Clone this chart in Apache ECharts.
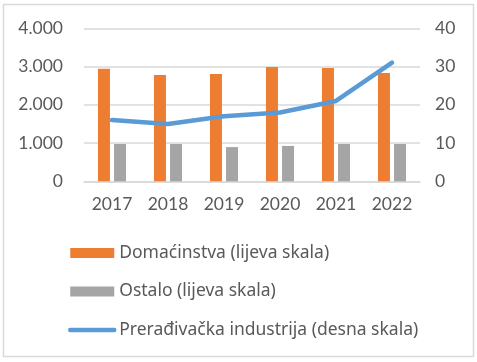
<!DOCTYPE html>
<html><head><meta charset="utf-8">
<script src="https://cdn.jsdelivr.net/npm/echarts@6/dist/echarts.min.js"></script>
<style>html,body{margin:0;padding:0;background:#fff}#c{width:477px;height:362px}</style>
</head><body><div id="c"></div>
<script>
const categories = ['2017','2018','2019','2020','2021','2022'];
const domacinstva = [2940, 2780, 2805, 2990, 2960, 2830];
const ostalo = [975, 975, 895, 925, 975, 975];
const preradjivacka = [16, 15, 17, 18, 21, 31];
const leftTicks = [0, 1000, 2000, 3000, 4000];
const rightTicks = [0, 10, 20, 30, 40];

const FONT = 'Lato';
const LFONT = 'Noto Sans';
const chart = echarts.init(document.getElementById('c'), null, {renderer:'canvas'});
chart.setOption({
  animation: false,
  backgroundColor: '#fff',
  textStyle: {fontFamily: FONT},
  graphic: [{type:'rect', shape:{x:3.5, y:4.5, width:470, height:352}, style:{fill:'none', stroke:'#D9D9D9', lineWidth:1.5}, silent:true, z:-1}],
  grid: {left: 84, right: 57, top: 28.3, height: 153, containLabel: false},
  legend: {
    orient: 'vertical', left: 68, top: 244, padding: 0,
    itemWidth: 44, itemHeight: 10, itemGap: 20.5,
    textStyle: {fontFamily: LFONT, fontSize: 17.5, color: '#595959', lineHeight: 17, padding:[0,0,0,0]},
    data: [
      {name: 'Domaćinstva (lijeva skala)', icon: 'rect'},
      {name: 'Ostalo (lijeva skala)', icon: 'rect'},
      {name: 'Prerađivačka industrija (desna skala)', itemStyle: {opacity: 0},
       lineStyle: {width: 4.5, cap: 'round', color: '#5B9BD5'}}
    ]
  },
  xAxis: {
    type: 'category', data: categories,
    axisLine: {show: true, lineStyle: {color: '#D9D9D9', width: 1.5}},
    axisTick: {show: false},
    axisLabel: {fontFamily: FONT, fontSize: 17.5, color: '#595959', margin: 14}
  },
  yAxis: [
    {type: 'value', min: leftTicks[0], max: leftTicks[leftTicks.length-1], interval: 1000,
     axisLine: {show:false}, axisTick:{show:false},
     splitLine: {lineStyle: {color: '#D9D9D9', width: 1.5}},
     axisLabel: {fontFamily: FONT, fontSize: 17.5, color: '#595959', margin: 21,
       formatter: v => v === 0 ? '0' : (v/1000).toFixed(0) + '.000'}},
    {type: 'value', min: rightTicks[0], max: rightTicks[rightTicks.length-1], interval: 10,
     axisLine: {show:false}, axisTick:{show:false}, splitLine: {show:false},
     axisLabel: {fontFamily: FONT, fontSize: 17.5, color: '#595959', margin: 15}}
  ],
  series: [
    {name: 'Domaćinstva (lijeva skala)', type: 'bar', data: domacinstva, barWidth: 12, barGap: '34%',
     itemStyle: {color: '#ED7D31'}},
    {name: 'Ostalo (lijeva skala)', type: 'bar', data: ostalo, barWidth: 12,
     itemStyle: {color: '#A5A5A5'}},
    {name: 'Prerađivačka industrija (desna skala)', type: 'line', yAxisIndex: 1, data: preradjivacka,
     symbol: 'none', lineStyle: {color: '#5B9BD5', width: 4.5, cap: 'round', join: 'round'},
     itemStyle: {color: '#5B9BD5'}}
  ]
});
</script></body></html>
